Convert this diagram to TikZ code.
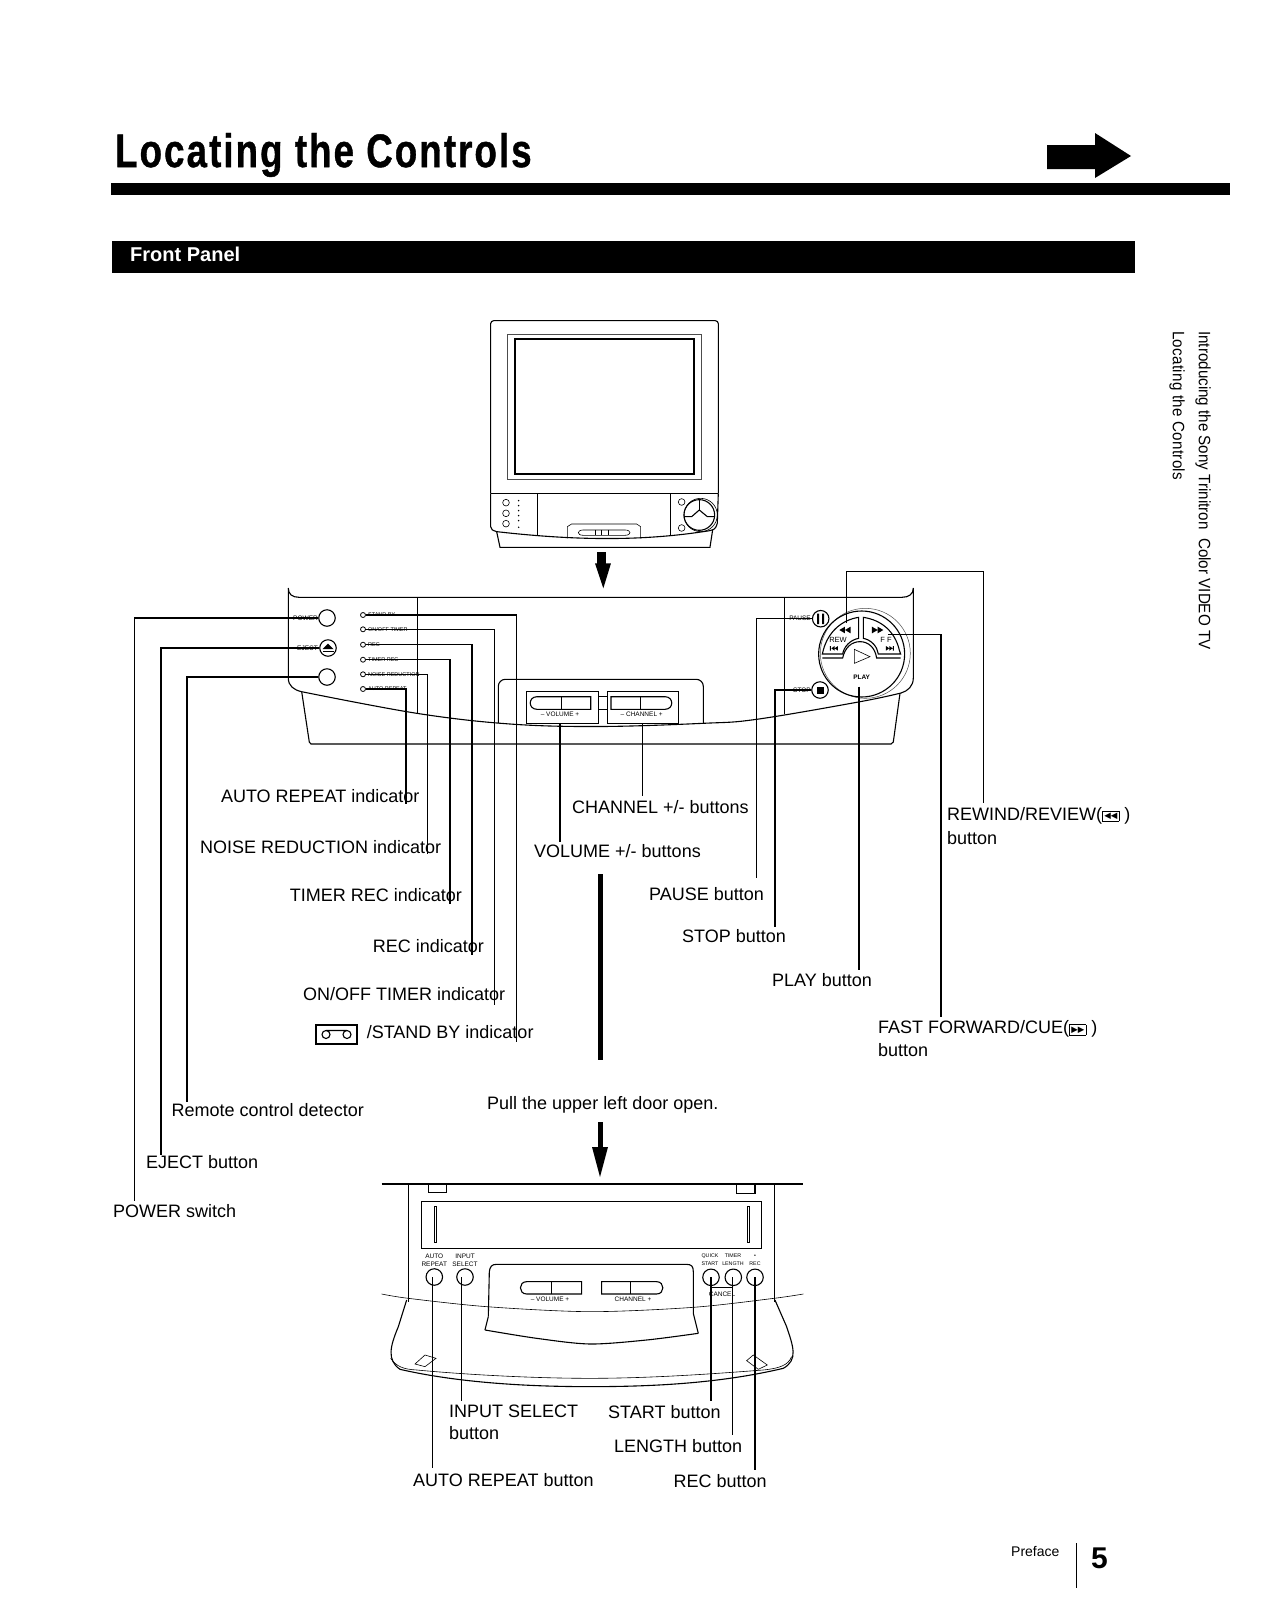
\documentclass[tikz,border=0pt]{standalone}
\usepackage{graphicx}
\usepackage{fontspec}
\setmainfont{Liberation Sans}
\newfontfamily\dejavu{DejaVu Sans}
\tikzset{
  lbl/.style={anchor=west,inner sep=0pt,font=\fontsize{18}{20}\selectfont},
  tiny/.style={inner sep=0pt,font=\fontsize{6.5}{7}\selectfont},
  tinier/.style={inner sep=0pt,font=\fontsize{5.3}{6}\selectfont},
  ledt/.style={anchor=west,inner sep=0pt,font=\fontsize{5.5}{6}\selectfont},
  leader/.style={line width=1.2pt,black},
  outl/.style={line width=1.1pt,black},
  thin/.style={line width=.6pt,black},
  faint/.style={line width=.5pt,black!70},
  btn/.style={circle,draw,line width=1.1pt,minimum size=16.5pt,inner sep=0pt},
  led/.style={circle,draw,line width=.8pt,minimum size=5pt,inner sep=0pt},
}
\newcommand{\glyphbox}[1]{\smash{\raisebox{1.5pt}{\setlength\fboxsep{1.6pt}\setlength\fboxrule{.5pt}\fbox{\dejavu\fontsize{8.5}{9}\selectfont #1}}}}
\begin{document}
\begin{tikzpicture}[x=1pt,y=-1pt]
\useasboundingbox (0,0) rectangle (1266,1610);
\fill[white] (0,0) rectangle (1266,1610);
% header
\node[anchor=west,inner sep=0pt] (title) at (115,155) {\scalebox{.78}[1]{\fontsize{47}{50}\selectfont\bfseries\addfontfeature{LetterSpace=5.7,FakeBold=1}Locating the Controls}};
\fill (111,183) rectangle (1230,195);
\fill (1047,145) -- (1095,145) -- (1095,133) -- (1131,156) -- (1095,178) -- (1095,169) -- (1047,169) -- cycle;
\fill (112,241) rectangle (1135,273);
\node[anchor=west,inner sep=0pt,text=white,font=\fontsize{20}{22}\selectfont\bfseries] (front) at (130,254) {Front Panel};
% side text
\node[anchor=north west,inner sep=0pt,rotate=-90] (side1) at (1211,331) {\scalebox{.92}[1]{\fontsize{16.5}{18}\selectfont Introducing the Sony Trinitron\ \ Color VIDEO TV}};
\node[anchor=north west,inner sep=0pt,rotate=-90] (side2) at (1185,331) {\scalebox{.92}[1]{\fontsize{16.5}{18}\selectfont\addfontfeature{LetterSpace=2}Locating the Controls}};
% TV
\begin{scope}[shift={(470,310)},x=.3333pt,y=-.3333pt]
\draw[outl,rounded corners=3pt] (62,550) -- (62,32) -- (745,32) -- (745,550);
\draw[faint] (112,72) rectangle (695,508);
\draw[outl] (135,87) rectangle (672,492);
\draw[outl] (62,550) -- (745,550);
\draw[outl] (62,550) -- (62,650) .. controls (65,660) .. (80,665) .. controls (300,690) and (500,695) .. (700,665) .. controls (735,660) .. (742,640) -- (745,550);
\draw[outl] (80,665) -- (90,712) -- (720,712) -- (728,660);
\draw[thin] (202,550) -- (202,675) (602,550) -- (602,675);
\draw[thin] (292,685) -- (292,650) -- (305,642) -- (500,642) -- (512,650) -- (512,685);
\draw[thin] (340,660) -- (465,660) .. controls (485,660) and (485,676) .. (465,676) -- (340,676) .. controls (320,676) and (320,660) .. (340,660);
\draw[thin] (375,660) -- (375,676) (395,660) -- (395,676) (415,660) -- (415,676);
\foreach \y in {578,610,641} \draw[thin] (108,\y) circle[radius=10];
\foreach \y in {572,587,602,617,632,652} \fill (146,\y) circle[radius=2.5];
\foreach \y in {576,654} \draw[thin] (635,\y) circle[radius=10];
\draw[outl] (688,615) circle[radius=46];
\draw[thin] (692,615) circle[radius=50];
\draw[outl] (642,620) -- (665,620) -- (688,600) -- (712,620) -- (735,620);
\draw[outl] (688,570) -- (688,600);
\fill (382,725) rectangle (408,762);
\fill (375,760) -- (423,760) -- (400,835) -- cycle;
\end{scope}
% main panel outline
\draw[outl] (288.3,588) .. controls (288.3,594) and (292,597.3) .. (299,597.3) -- (902,597.3) .. controls (909,597.3) and (913.3,594) .. (913.3,588) -- (913.3,678) .. controls (913.3,686) and (908,691) .. (901,693);
\draw[outl] (288.3,588) -- (288.3,678) .. controls (288.3,686) and (294,690) .. (301.7,691.7);
\draw[outl] plot[smooth,tension=.6] coordinates {(301.7,691.7) (416.7,713.3) (510,724) (600,726.5) (703.3,723.3) (756.7,719.3) (860,701.7) (901,693)};
\draw[outl] (301.7,691.7) -- (309.3,742) -- (311,744) -- (891,744) -- (893.3,742) -- (900,693.3);
\draw[thin] (417.3,597.3) -- (417.3,713) (784,597.3) -- (784,714);
\draw[outl,rounded corners=7pt] (498.3,723) -- (498.3,679.3) -- (703.3,679.3) -- (703.3,723);
\fill[white] (526.7,691.7) rectangle (678.3,723.3);
% volume/channel boxes
\draw[outl] (526.7,691.7) rectangle (598.3,723.3);
\draw[outl] (607.3,691.7) rectangle (678.3,723.3);
\draw[outl] (537,696.7) -- (590.7,696.7) -- (590.7,709.3) -- (537,709.3) .. controls (528,709.3) and (528,696.7) .. (537,696.7);
\draw[outl] (561.7,696.7) -- (561.7,709.3);
\draw[outl] (611,696.7) -- (665,696.7) .. controls (674,696.7) and (674,709.3) .. (665,709.3) -- (611,709.3) -- cycle;
\draw[outl] (640.7,696.7) -- (640.7,709.3);
\draw[thin] (598.3,696.7) -- (607.3,696.7) (598.3,709.3) -- (607.3,709.3);
\node[tiny] (volt) at (560,714.5) {-- VOLUME +};
\node[tiny] (chat) at (641.7,714.5) {-- CHANNEL +};
\coordinate (volb) at (560,723.3);
\coordinate (chab) at (642.3,723.3);
% left buttons
\node[btn] (power) at (327,618) {};
\node[btn] (eject) at (328,648) {};
\fill (322.5,649) -- (328,643.5) -- (333.5,649) -- cycle; \fill (322.5,650.5) rectangle (333.5,652);
\node[btn] (remote) at (327,677) {};
\node[tiny,anchor=east] (powt) at (318,618) {POWER};
\node[tiny,anchor=east] (ejet) at (318,648) {EJECT};
% LEDs
\node[led] (l1) at (363,615) {};
\node[led] (l2) at (363,629.3) {};
\node[led] (l3) at (363,644.7) {};
\node[led] (l4) at (363,659.7) {};
\node[led] (l5) at (363,674.3) {};
\node[led] (l6) at (363,689) {};
\node[ledt] (t1) at (368,615) {STAND BY};
\node[ledt] (t2) at (368,629.3) {ON/OFF TIMER};
\node[ledt] (t3) at (368,644.7) {REC};
\node[ledt] (t4) at (368,659.7) {TIMER REC};
\node[ledt] (t5) at (368,674.3) {NOISE REDUCTION};
\node[ledt] (t6) at (368,689) {AUTO REPEAT};
% right buttons and jog
\node[btn] (pause) at (820.7,618.7) {};
\fill (817,613.5) rectangle (819,624) (822,613.5) rectangle (824,624);
\node[btn] (stop) at (820,690) {};
\fill (816.5,686.5) rectangle (823.5,693.5);
\node[tiny,anchor=east] (paut) at (811,618.7) {PAUSE};
\node[tiny,anchor=east] (stot) at (811,690) {STOP};
\begin{scope}[shift={(660,560)},x=.3333pt,y=-.3333pt]
\draw[faint] (616,280) circle[radius=135];
\draw[outl] (605,282) circle[radius=129];
\draw[outl] (487,282) -- (490,270) .. controls (505,215) and (545,180) .. (596,172) -- (596,235) .. controls (570,240) and (552,260) .. (548,282) -- cycle;
\draw[outl] (722,282) -- (718,270) .. controls (705,215) and (665,180) .. (610,172) -- (610,235) .. controls (635,240) and (652,260) .. (655,282) -- cycle;
\draw[outl] (487,294) -- (548,294) .. controls (555,262) and (575,245) .. (600,245) .. controls (625,245) and (645,262) .. (650,294) -- (722,294);
\draw[thin] (583,268) -- (630,290) -- (583,310) -- cycle;
\fill (572,200) -- (555,210) -- (572,220) -- cycle (555,200) -- (538,210) -- (555,220) -- cycle;
\fill (636,200) -- (653,210) -- (636,220) -- cycle (653,200) -- (670,210) -- (653,220) -- cycle;
\fill (534,258) -- (524,265) -- (534,272) -- cycle (524,258) -- (514,265) -- (524,272) -- cycle (510,258) rectangle (513,272);
\fill (678,258) -- (688,265) -- (678,272) -- cycle (688,258) -- (698,265) -- (688,272) -- cycle (699,258) rectangle (702,272);
\end{scope}
\node[tiny,font=\fontsize{7.5}{8}\selectfont] (rew) at (838,639.5) {REW};
\node[tiny,font=\fontsize{7.5}{8}\selectfont] (ffb) at (886,639.5) {F F};
\node[tiny,font=\fontsize{6.5}{7}\selectfont] (playt) at (861.7,677) {\textbf{PLAY}};
\coordinate (rewb) at (846.7,623);
\coordinate (ffbb) at (888,634.3);
\coordinate (playb) at (859,686.7);
% labels
\node[lbl] (a1) at (220.8,796) {AUTO REPEAT indicator};
\node[lbl] (a2) at (200,847) {NOISE REDUCTION indicator};
\node[lbl] (a3) at (289.6,895) {TIMER REC indicator};
\node[lbl] (a4) at (372.7,946) {REC indicator};
\node[lbl] (a5) at (303,994) {ON/OFF TIMER indicator};
\node[lbl] (a6) at (366.6,1032) {/STAND BY indicator};
\node[lbl] (a7) at (171.5,1110) {Remote control detector};
\node[lbl] (a8) at (146,1162) {EJECT button};
\node[lbl] (a9) at (113,1211) {POWER switch};
\node[lbl] (b1) at (572,807) {CHANNEL +/- buttons};
\node[lbl] (b2) at (534,851) {VOLUME +/- buttons};
\node[lbl] (b3) at (649,894) {PAUSE button};
\node[lbl] (b4) at (682,936) {STOP button};
\node[lbl] (b5) at (772,980) {PLAY button};
\node[lbl,text height=13pt,text depth=4pt] (b6) at (947,815.5) {REWIND/REVIEW(\glyphbox{◀◀}\ )};
\node[lbl] (b7) at (947,838) {button};
\node[lbl,text height=13pt,text depth=4pt] (b8) at (878,1029) {FAST FORWARD/CUE(\glyphbox{▶▶}\ )};
\node[lbl] (b9) at (878,1050) {button};
\node[lbl] (pull) at (487,1105) {Pull the upper left door open.};
\node[lbl] (c1) at (449,1411) {INPUT SELECT};
\node[lbl] (c2) at (449,1433) {button};
\node[lbl] (c3) at (608,1412) {START button};
\node[lbl] (c4) at (614,1446) {LENGTH button};
\node[lbl] (c5) at (413,1480) {AUTO REPEAT button};
\node[lbl] (c6) at (673.5,1481) {REC button};
% tape icon
\draw[outl] (316,1025) rectangle (357,1044);
\draw[outl] (326,1034.5) circle[radius=4] (347,1034.5) circle[radius=4] (326,1030.5) -- (347,1030.5);
% leader ends
\coordinate (e1) at (134.5,1201);
\coordinate (e2) at (161,1155);
\coordinate (e3) at (187,1102);
\coordinate (e4) at (516.7,1042);
\coordinate (e5) at (494.3,1005);
\coordinate (e6) at (472,955);
\coordinate (e7) at (450,904);
\coordinate (e8) at (427.7,854);
\coordinate (e9) at (406,804);
\coordinate (e10) at (560,842);
\coordinate (e11) at (642.3,796);
\coordinate (e12) at (756.7,878);
\coordinate (e13) at (775,927);
\coordinate (e14) at (859,970);
\coordinate (e15) at (983.7,803);
\coordinate (e16) at (941,1016.5);
\coordinate (k15) at (846.7,571.5);
% leaders
\draw[leader] (power.west) -| (e1);
\draw[leader] (eject.west) -| (e2);
\draw[leader] (remote.west) -| (e3);
\draw[leader] (l1.east) -| (e4);
\draw[leader] (l2.east) -| (e5);
\draw[leader] (l3.east) -| (e6);
\draw[leader] (l4.east) -| (e7);
\draw[leader] (l5.east) -| (e8);
\draw[leader] (l6.east) -| (e9);
\draw[leader] (volb) -- (e10);
\draw[leader] (chab) -- (e11);
\draw[leader] (pause.west) -| (e12);
\draw[leader] (stop.west) -| (e13);
\draw[leader] (playb) -- (e14);
\draw[leader] (rewb) -- (k15) -| (e15);
\draw[leader] (ffbb) -| (e16);
% arrows
\fill (597.5,874) rectangle (602.5,1060);
\fill (597.5,1122) rectangle (602.5,1150);
\fill (592,1147) -- (608,1147) -- (600,1177) -- cycle;
% door panel
\begin{scope}[shift={(370,1170)},x=.3333pt,y=-.3333pt]
\draw[line width=1.6pt] (35,42) -- (1300,42);
\draw[thin] (115,42) -- (115,395) (1212,42) -- (1212,395);
\draw[outl] (175,42) -- (175,68) -- (230,68) -- (230,42);
\draw[outl] (1100,42) -- (1100,70) -- (1155,70) -- (1155,42);
\draw[outl] (155,95) rectangle (1175,235);
\draw[thin] (192,110) rectangle (199,218);
\draw[thin] (1132,110) rectangle (1139,218);
\draw[thin] plot[smooth,tension=.5] coordinates {(35,372) (115,385) (350,410) (660,425) (970,412) (1212,385) (1300,372)};
\draw[outl] (355,440) -- (358,305) .. controls (360,290) and (365,283) .. (380,283) -- (950,283) .. controls (965,283) and (970,290) .. (970,305) -- (970,430) -- (985,490);
\draw[outl] plot[smooth,tension=.5] coordinates {(345,480) (500,505) (660,522) (830,510) (985,490)};
\draw[outl] (345,480) -- (355,440);
\draw[outl] (470,335) -- (635,335) -- (635,372) -- (470,372) .. controls (445,372) and (445,335) .. (470,335);
\draw[outl] (545,335) -- (545,372);
\draw[outl] (695,335) -- (860,335) .. controls (885,335) and (885,372) .. (860,372) -- (695,372) -- cycle;
\draw[outl] (782,335) -- (782,372);
\draw[outl] (110,390) -- (85,470) .. controls (60,530) and (50,570) .. (90,598) .. controls (250,635) and (450,650) .. (660,650) .. controls (850,650) and (1050,640) .. (1240,595) .. controls (1285,570) and (1270,530) .. (1250,470) -- (1215,390);
\draw[thin] (62,565) .. controls (80,590) and (100,598) .. (140,600) .. controls (300,615) and (500,625) .. (660,625) .. controls (850,625) and (1050,610) .. (1180,600) .. controls (1230,595) and (1255,585) .. (1265,560);
\draw[thin] (135,582) -- (165,555) -- (198,565) -- (165,590) -- cycle;
\draw[thin] (1130,572) -- (1150,555) -- (1192,585) -- (1165,598) -- cycle;
\draw[thin] (1025,352) -- (1090,352);
\end{scope}
\node[tiny] (d1) at (434.3,1256) {AUTO};
\node[tiny] (d2) at (434.3,1264) {REPEAT};
\node[tiny] (d3) at (465,1256) {INPUT};
\node[tiny] (d4) at (465,1264) {SELECT};
\node[tinier] (d5) at (710,1256) {QUICK};
\node[tinier] (d6) at (710,1264) {START};
\node[tinier] (d7) at (733,1256) {TIMER};
\node[tinier] (d8) at (733,1264) {LENGTH};
\node[tinier] (d9) at (755,1256) {\textbullet};
\node[tinier] (d10) at (755,1264) {REC};
\node[tiny] (d11) at (550,1299) {-- VOLUME +};
\node[tiny] (d12) at (633,1299) {CHANNEL +};
\node[tiny] (d13) at (722,1294) {CANCEL};
\node[btn] (b-auto) at (434.3,1277) {};
\node[btn] (b-input) at (465,1277) {};
\node[btn] (b-start) at (711,1277.3) {};
\node[btn] (b-len) at (733.3,1277.3) {};
\node[btn] (b-rec) at (755,1277.3) {};
\coordinate (f1) at (432.7,1468);
\coordinate (f2) at (461.7,1401);
\coordinate (f3) at (711,1401);
\coordinate (f4) at (732.7,1435);
\coordinate (f5) at (755,1470);
\draw[leader] (b-auto.center) ++(-1.6,0) -- (f1);
\draw[leader] (b-input.center) ++(-3.3,0) -- (f2);
\draw[leader] (b-start.center) -- (f3);
\draw[leader] (b-len.center) ++(-.6,0) -- (f4);
\draw[leader] (b-rec.center) -- (f5);
% footer
\node[anchor=west,inner sep=0pt,font=\fontsize{14}{16}\selectfont] (pref) at (1011,1551) {Preface};
\draw[line width=1pt] (1076,1543) -- (1076,1588);
\node[anchor=west,inner sep=0pt,font=\fontsize{30}{32}\selectfont\bfseries] (pg) at (1091,1558) {5};
\end{tikzpicture}
\end{document}
